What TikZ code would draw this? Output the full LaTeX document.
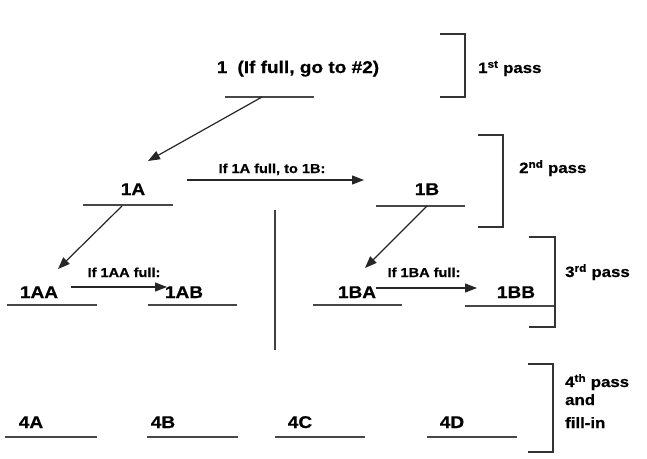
\documentclass[tikz,border=0pt]{standalone}
\usepackage{fontspec}
\setmainfont[FakeStretch=1.12,BoldFeatures={FakeBold=0.6}]{Liberation Sans}
\usetikzlibrary{arrows.meta}
\begin{document}
\begin{tikzpicture}[x=1pt,y=-1pt,
  lab/.style={anchor=base,inner sep=0pt,font=\bfseries\fontsize{17}{20}\selectfont},
  small/.style={anchor=base,inner sep=0pt,font=\bfseries\fontsize{13}{15}\selectfont},
  pass/.style={anchor=base west,inner sep=0pt,font=\bfseries\fontsize{15}{18}\selectfont},
  slot/.style={line width=1.8pt,draw=black!72},
  brk/.style={line width=1.5pt,draw=black!80},
  arr/.style={line width=1.2pt,draw=black!85,-{Triangle[length=12pt,width=9pt]}}]
\useasboundingbox (0,0) rectangle (647,458);

% first pass
\node[lab] (n1) at (298,73) {1\hspace{10pt}(If full, go to \#2)};
\draw[slot] (225,97) -- (314,97);
\coordinate (s1) at (262,97);
\draw[brk] (440,34) -- (465,34) -- (465,97) -- (440,97);
\node[pass] (p1) at (478,73) {1\textsuperscript{st} pass};

% second pass
\node[lab] (n1A) at (133,195) {1A};
\node[lab] (n1B) at (427,195) {1B};
\draw[slot] (83,205) -- (173,205);
\draw[slot] (376,206) -- (465,206);
\coordinate (t1A) at (148,161);
\draw[arr] (s1) -- (t1A);
\coordinate (a1) at (187,180);
\coordinate (a2) at (364,180);
\draw[arr] (a1) -- (a2);
\node[small] (l1) at (272,173) {If 1A full, to 1B:};
\draw[brk] (478,135) -- (503,135) -- (503,227) -- (478,227);
\node[pass] (p2) at (519,173) {2\textsuperscript{nd} pass};

% divider
\coordinate (v1) at (275,210);
\coordinate (v2) at (275,350);
\draw[line width=1.3pt,draw=black!75] (v1) -- (v2);

% third pass
\node[lab] (n1AA) at (39,298) {1AA};
\node[lab] (n1AB) at (184,298) {1AB};
\node[lab] (n1BA) at (357,298) {1BA};
\node[lab] (n1BB) at (516,298) {1BB};
\draw[slot] (7,305) -- (97,305);
\draw[slot] (148,305) -- (237,305);
\draw[slot] (313,305) -- (402,305);
\draw[slot] (465,306) -- (555,306);
\coordinate (s1A) at (122,206);
\coordinate (t1AA) at (58,269);
\draw[arr] (s1A) -- (t1AA);
\coordinate (s1B) at (427,206);
\coordinate (t1BA) at (365,268);
\draw[arr] (s1B) -- (t1BA);
\coordinate (b1) at (71,287);
\coordinate (b2) at (167,287);
\draw[arr] (b1) -- (b2);
\node[small] (l2) at (124,277) {If 1AA full:};
\coordinate (c1) at (376,288);
\coordinate (c2) at (477,288);
\draw[arr] (c1) -- (c2);
\node[small] (l3) at (424,277) {If 1BA full:};
\draw[brk] (529,237) -- (555,237) -- (555,327) -- (529,327);
\node[pass] (p3) at (565,277) {3\textsuperscript{rd} pass};

% fourth pass
\node[lab] (n4A) at (31,428) {4A};
\node[lab] (n4B) at (163,428) {4B};
\node[lab] (n4C) at (300,428) {4C};
\node[lab] (n4D) at (452,428) {4D};
\draw[slot] (5,437) -- (97,437);
\draw[slot] (147,437) -- (238,437);
\draw[slot] (275,437) -- (365,437);
\draw[slot] (427,437) -- (517,437);
\draw[brk] (528,364) -- (553,364) -- (553,452) -- (528,452);
\node[pass] (p4a) at (565,387) {4\textsuperscript{th} pass};
\node[pass] (p4b) at (565,405) {and};
\node[pass] (p4c) at (565,428) {fill-in};
\end{tikzpicture}
\end{document}
